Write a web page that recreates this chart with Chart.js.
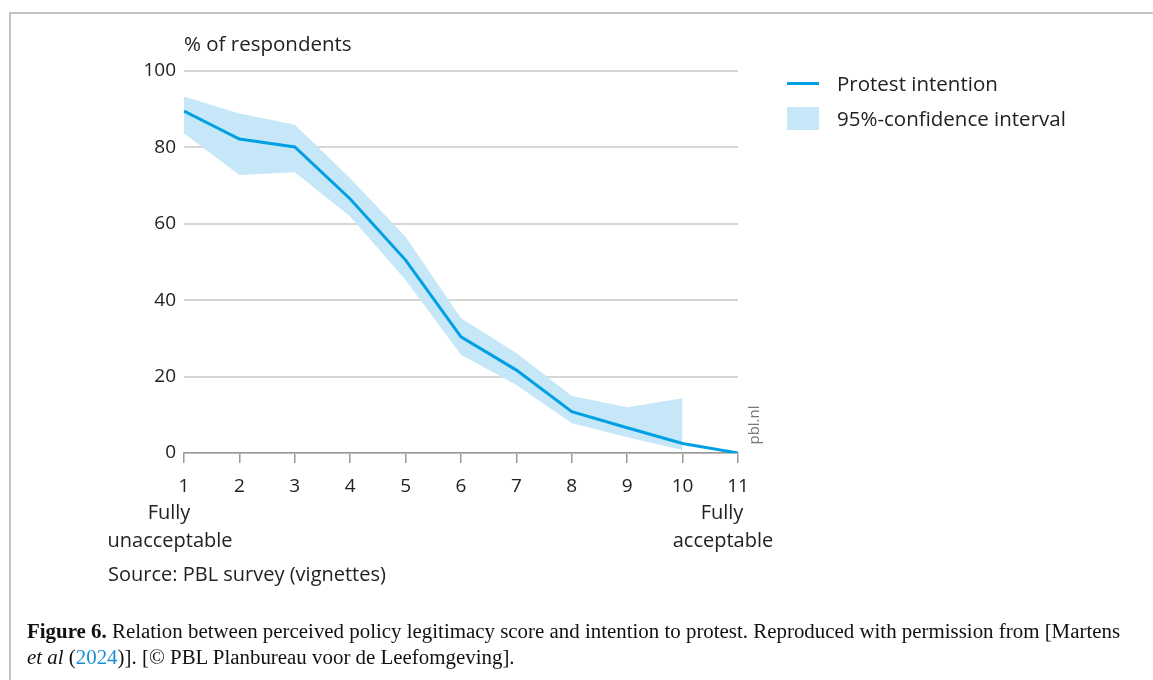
<!DOCTYPE html>
<html>
<head>
<meta charset="utf-8">
<script src="https://cdn.jsdelivr.net/npm/chart.js@4.4.1/dist/chart.umd.min.js"></script>
<style>
  body { margin: 0; background: #fff; }
  #wrap { position: relative; width: 1153px; height: 680px; overflow: hidden; font-family: "Open Sans", sans-serif; color: #222; }
  #frame { position: absolute; left: 9px; top: 12px; width: 1160px; height: 700px; border-top: 2px solid #c4c4c4; border-left: 2px solid #c4c4c4; }
  canvas { position: absolute; left: 0; top: 0; }
  .t { position: absolute; white-space: nowrap; font-size: 20px; line-height: 1; }
  .l { font-size: 20.5px; }
  .c { transform: translateX(-50%); text-align: center; }
  .leg-line { position: absolute; left: 787px; top: 82px; width: 32px; height: 3px; background: #00a0e3; }
  .leg-box { position: absolute; left: 787px; top: 107px; width: 32px; height: 23px; background: #c6e7f8; }
  #pbl { position: absolute; left: 753px; top: 425px; transform: translate(-50%, -50%) rotate(-90deg); font-size: 15px; color: #777; white-space: nowrap; }
  .cap { position: absolute; left: 27px; font-family: "Liberation Serif", serif; font-size: 20px; color: #111; white-space: nowrap; line-height: 1; transform: scaleX(1.045); transform-origin: left center; }
  .cap a { color: #1a8fd6; text-decoration: none; }
</style>
</head>
<body>
<div id="wrap">
  <div id="frame"></div>
  <canvas id="chart" width="1153" height="680"></canvas>

  <div class="t l" style="left:184px; top:33px;">% of respondents</div>

  <div class="leg-line"></div>
  <div class="t l" style="left:837px; top:73px;">Protest intention</div>
  <div class="leg-box"></div>
  <div class="t l" style="left:837px; top:108px;">95%-confidence interval</div>

  <div id="pbl">pbl.nl</div>

  <div class="t c" style="left:169px; top:502px;">Fully</div>
  <div class="t c" style="left:170px; top:530px;">unacceptable</div>
  <div class="t c" style="left:722px; top:502px;">Fully</div>
  <div class="t c" style="left:723px; top:530px;">acceptable</div>

  <div class="t" style="left:108px; top:564px;">Source: PBL survey (vignettes)</div>

  <div class="cap" style="top:621px;"><b>Figure 6.</b> Relation between perceived policy legitimacy score and intention to protest. Reproduced with permission from [Martens</div>
  <div class="cap" style="top:647px;"><i>et al</i> (<a>2024</a>)]. [© PBL Planbureau voor de Leefomgeving].</div>
</div>

<script>
const scores = [1, 2, 3, 4, 5, 6, 7, 8, 9, 10, 11];
const protest = [89.5, 82.2, 80.1, 66.5, 50.5, 30.4, 21.7, 10.8, 6.6, 2.5, 0];
const ciUpper = [93.3, 88.9, 85.9, 71.9, 56.6, 35.3, 26.2, 14.9, 12.0, 14.3, null];
const ciLower = [83.7, 72.8, 73.5, 61.9, 45.3, 25.7, 17.8, 7.8, 4.1, 0.8, null];
const yTicks = [0, 20, 40, 60, 80, 100];

const pts = (arr) => scores.map((x, i) => ({ x: x, y: arr[i] }));

const ctx = document.getElementById("chart").getContext("2d");
new Chart(ctx, {
  type: "line",
  data: {
    datasets: [
      {
        label: "Protest intention",
        data: pts(protest),
        borderColor: "#00a0e3",
        borderWidth: 3,
        pointRadius: 0,
        tension: 0,
        fill: false,
      },
      {
        label: "upper",
        data: pts(ciUpper),
        borderWidth: 0,
        pointRadius: 0,
        backgroundColor: "#c6e7f8",
        fill: "+1",
      },
      {
        label: "lower",
        data: pts(ciLower),
        borderWidth: 0,
        pointRadius: 0,
        backgroundColor: "#c6e7f8",
        fill: false,
      },
    ],
  },
  options: {
    responsive: false,
    animation: false,
    layout: { padding: { left: 124, top: 71, right: 415, bottom: 0 } },
    plugins: { legend: { display: false }, tooltip: { enabled: false } },
    scales: {
      x: {
        type: "linear",
        min: 1,
        max: 11,
        afterFit: (s) => { s.height = 227; },
        afterBuildTicks: (s) => { s.ticks = scores.map((v) => ({ value: v })); },
        grid: { drawOnChartArea: false, drawTicks: true, tickLength: 10, color: "#9a9a9a", lineWidth: 1.5 },
        border: { color: "#9a9a9a", width: 1.5 },
        ticks: { color: "#222", padding: 12, font: { family: "Open Sans", size: 19 }, maxRotation: 0 },
      },
      y: {
        min: 0,
        max: 100,
        afterFit: (s) => { s.width = 60; },
        afterBuildTicks: (s) => { s.ticks = yTicks.map((v) => ({ value: v })); },
        grid: { color: "#d6d6d6", lineWidth: 2, drawTicks: false },
        border: { display: false },
        ticks: { color: "#222", padding: 8, font: { family: "Open Sans", size: 19 } },
      },
    },
  },
});
</script>
</body>
</html>
